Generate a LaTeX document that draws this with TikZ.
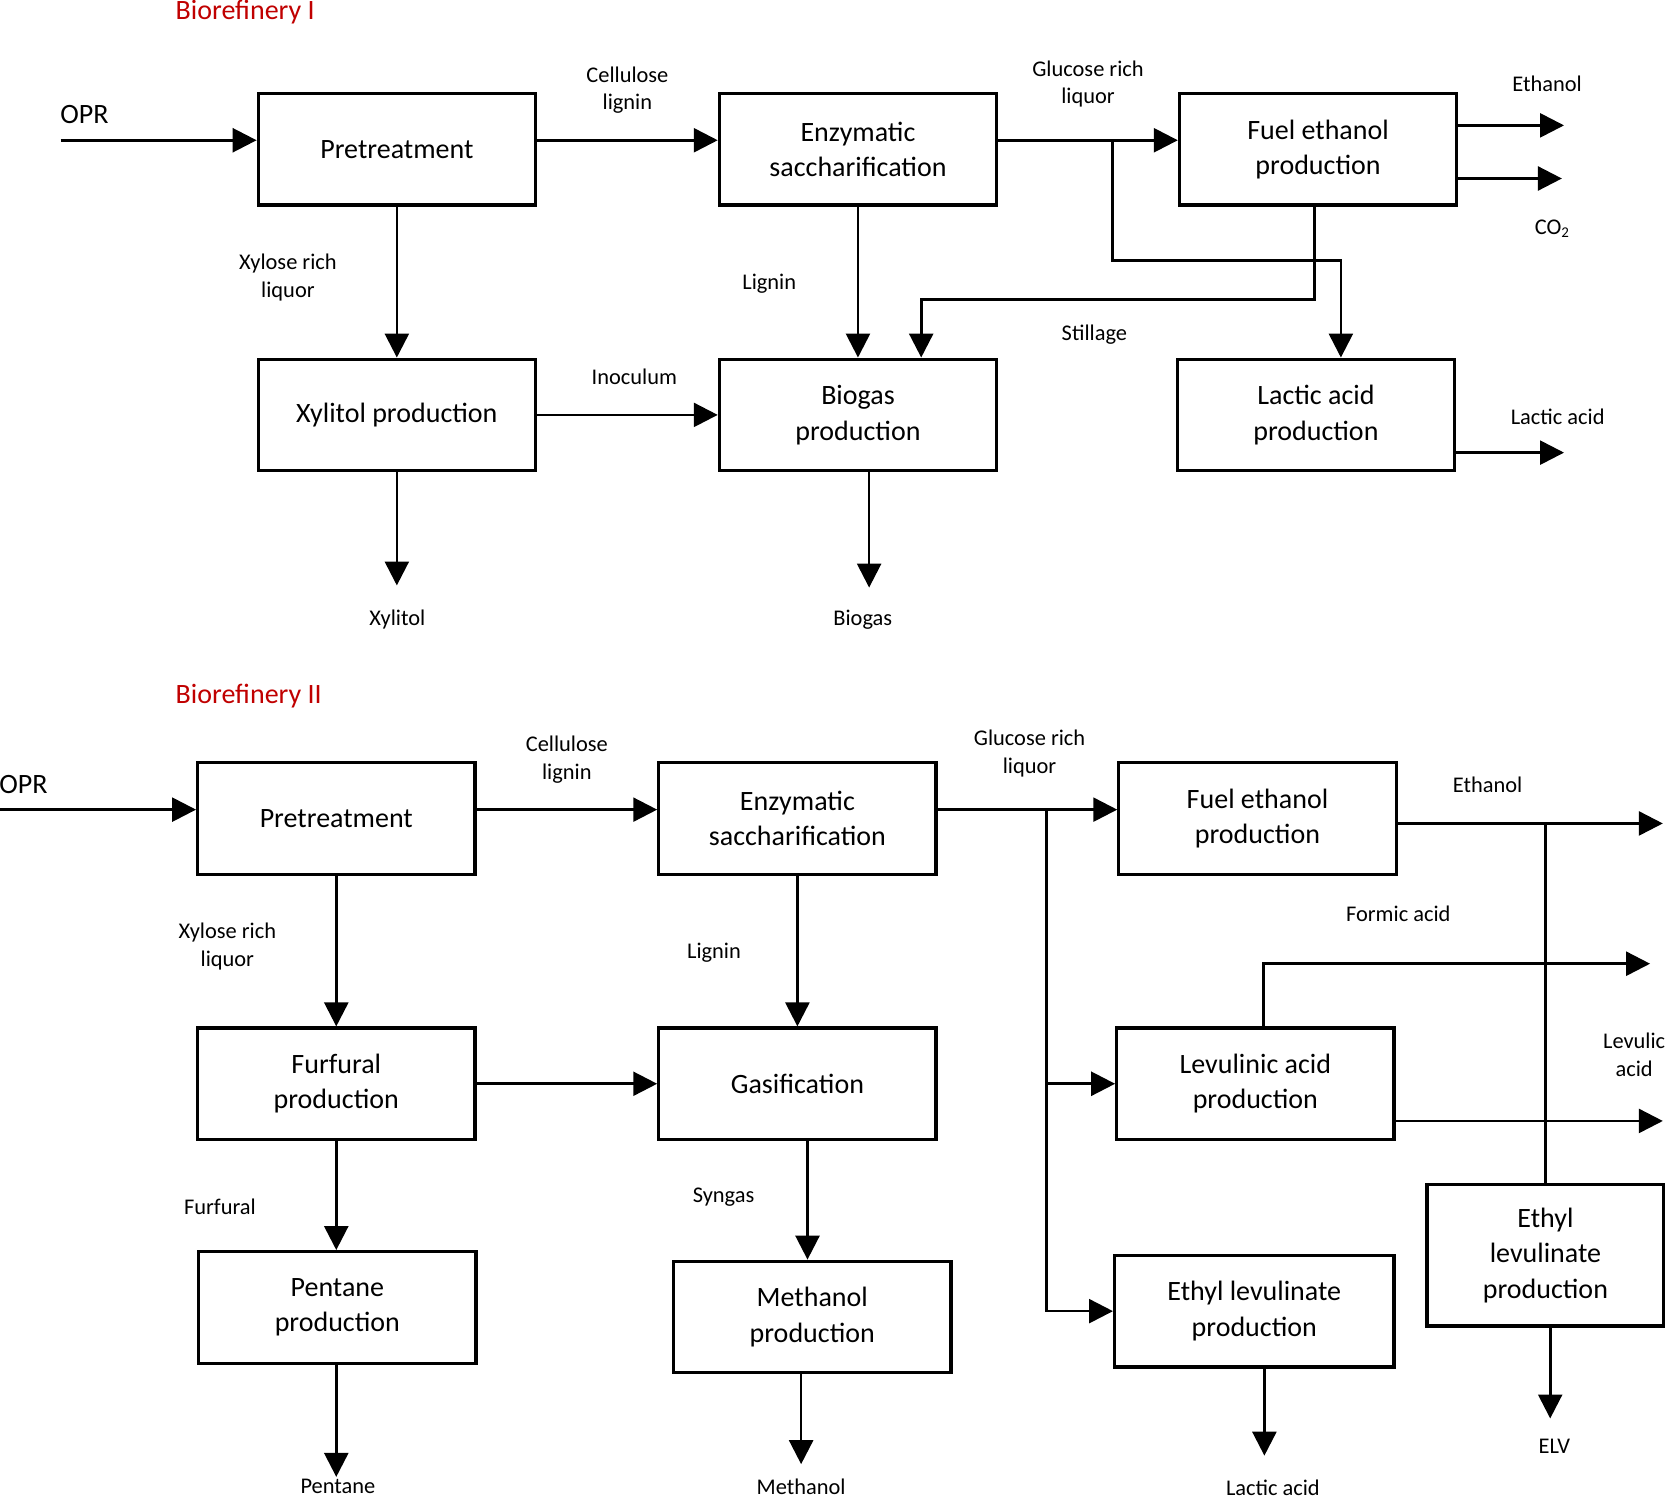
\documentclass[tikz,border=0pt]{standalone}
\usepackage{fontspec}
\setmainfont{Carlito}
\usepackage{tikz}
\usetikzlibrary{arrows.meta, positioning, calc}
\definecolor{titlered}{RGB}{192,0,0}

\begin{document}
\begin{tikzpicture}[
    unit/.style={
        draw, line width=1.7pt, fill=white,
        minimum width=5.22cm, minimum height=2.1cm,
        font=\fontsize{15}{19}\selectfont, align=center
    },
    arr/.style={-{Triangle[length=0.45cm, width=0.45cm]}, line width=1.4pt},
    flow/.style={line width=1.4pt},
    lbl/.style={font=\fontsize{12}{14.8}\selectfont, align=center},
    head/.style={font=\fontsize{15}{19}\selectfont, text=titlered, anchor=west, inner sep=0pt}
]
    \useasboundingbox (0,0) rectangle (31.36,-28.26);

    % Biorefinery I
    \node[head] (t1) at (3.3,-0.22) {Biorefinery I};

    \node[unit] (pre) at (7.47,-2.81) {Pretreatment};
    \node[unit] (enz) at (16.15,-2.81) {Enzymatic\\saccharification};
    \node[unit] (fe)  at (24.81,-2.81) {Fuel ethanol\\production};
    \node[unit] (xyl) at (7.47,-7.81) {Xylitol production};
    \node[unit] (bio) at (16.15,-7.81) {Biogas\\production};
    \node[unit] (lac) at (24.77,-7.81) {Lactic acid\\production};

    % Feed and main line
    \coordinate (opr) at (1.14,-2.64);
    \node[font=\fontsize{15}{19}\selectfont] (oprl) at (1.59,-2.16) {OPR};
    \draw[arr] (opr) -- (opr -| pre.west);
    \draw[arr] ([yshift=1.7mm]pre.east) -- ([yshift=1.7mm]enz.west)
        node[midway, lbl, yshift=0.94cm] {Cellulose\\lignin};
    \draw[arr] ([yshift=1.7mm]enz.east) -- ([yshift=1.7mm]fe.west);
    \node[lbl] at (20.48,-1.58) {Glucose rich\\liquor};

    % Branches
    \coordinate (gl1) at (20.94,-2.64);
    \coordinate (gl2) at (25.24,-4.9);
    \draw[arr] (gl1) |- (gl2) -- (gl2 |- lac.north);
    \coordinate (st) at (17.34,-5.64);
    \draw[arr] ([xshift=-0.7mm]fe.south) |- (st) -- (st |- bio.north);
    \node[lbl] at (20.6,-6.3) {Stillage};

    \draw[arr] (pre.south) -- (xyl.north);
    \node[lbl] at (5.42,-5.22) {Xylose rich\\liquor};
    \draw[arr] (enz.south) -- (bio.north);
    \node[lbl] at (14.48,-5.34) {Lignin};
    \draw[arr] (xyl.east) -- (bio.west);
    \node[lbl] at (11.94,-7.1) {Inoculum};

    % Products
    \coordinate (etho) at (29.44,-2.36);
    \draw[arr] (fe.east |- etho) -- (etho);
    \node[lbl] at (29.12,-1.58) {Ethanol};
    \coordinate (co2o) at (29.4,-3.36);
    \draw[arr] ([xshift=-0.6mm]fe.east |- co2o) -- (co2o);
    \node[lbl] at (29.22,-4.3) {CO\textsubscript{2}};
    \coordinate (lao) at (29.44,-8.52);
    \draw[arr] (lac.east |- lao) -- (lao);
    \node[lbl] at (29.32,-7.84) {Lactic acid};
    \coordinate (xo) at (7.47,-11.02);
    \draw[arr] (xyl.south) -- (xo);
    \node[lbl] at (7.48,-11.66) {Xylitol};
    \coordinate (bo) at (16.36,-11.06);
    \draw[arr] (bo |- bio.south) -- (bo);
    \node[lbl] at (16.24,-11.66) {Biogas};

    % Biorefinery II
    \node[head] (t2) at (3.3,-13.1) {Biorefinery II};

    \node[unit] (pre2) at (6.33,-15.41) {Pretreatment};
    \node[unit] (enz2) at (15.01,-15.41) {Enzymatic\\saccharification};
    \node[unit] (fe2)  at (23.67,-15.41) {Fuel ethanol\\production};
    \node[unit] (fur)  at (6.33,-20.4) {Furfural\\production};
    \node[unit] (gas)  at (15.01,-20.4) {Gasification};
    \node[unit] (lev)  at (23.63,-20.4) {Levulinic acid\\production};
    \node[unit] (pen)  at (6.35,-24.61) {Pentane\\production};
    \node[unit] (met)  at (15.29,-24.79) {Methanol\\production};
    \node[unit, minimum width=5.26cm] (elp) at (23.61,-24.68) {Ethyl levulinate\\production};
    \node[unit, minimum width=4.46cm, minimum height=2.66cm] (elv) at (29.09,-23.63) {Ethyl\\levulinate\\production};

    \coordinate (opr2) at (0,-15.24);
    \node[font=\fontsize{15}{19}\selectfont] (oprl2) at (0.44,-14.76) {OPR};
    \draw[arr] (opr2) -- (opr2 -| pre2.west);
    \draw[arr] ([yshift=1.7mm]pre2.east) -- ([yshift=1.7mm]enz2.west)
        node[midway, lbl, yshift=0.94cm] {Cellulose\\lignin};
    \draw[arr] ([yshift=1.7mm]enz2.east) -- ([yshift=1.7mm]fe2.west);
    \node[lbl] at (19.38,-14.18) {Glucose rich\\liquor};

    % Glucose split
    \coordinate (gb) at (19.7,-15.24);
    \draw[arr] (gb) |- (elp.west);
    \draw[arr] (gb |- lev.west) -- (lev.west);

    % Ethanol and acids
    \coordinate (eo2) at (31.3,-15.5);
    \draw[arr] (fe2.east |- eo2) -- (eo2);
    \node[lbl] at (28.0,-14.78) {Ethanol};
    \draw[flow] (elv.north) -- (elv.north |- eo2);
    \coordinate (fa) at (31.06,-18.14);
    \draw[arr] ([xshift=1.5mm]lev.north) |- (fa);
    \node[lbl] at (26.32,-17.2) {Formic acid};
    \coordinate (lo) at (31.3,-21.1);
    \draw[arr] (lev.east |- lo) -- (lo);
    \node[lbl] at (30.76,-19.86) {Levulic\\acid};
    \coordinate (elvo) at (29.18,-26.7);
    \draw[arr] (elvo |- elv.south) -- (elvo);
    \node[lbl] at (29.26,-27.22) {ELV};
    \coordinate (lao2) at (23.8,-27.4);
    \draw[arr] (lao2 |- elp.south) -- (lao2);
    \node[lbl] at (23.96,-28.0) {Lactic acid};

    % Xylose and lignin routes
    \draw[arr] (pre2.south) -- (fur.north);
    \node[lbl] at (4.28,-17.82) {Xylose rich\\liquor};
    \draw[arr] (enz2.south) -- (gas.north);
    \node[lbl] at (13.44,-17.94) {Lignin};
    \draw[arr] (fur.east) -- (gas.west);
    \draw[arr] (fur.south) -- (fur.south |- pen.north);
    \node[lbl] at (4.14,-22.72) {Furfural};
    \coordinate (po) at (6.33,-27.8);
    \draw[arr] (po |- pen.south) -- (po);
    \node[lbl] at (6.36,-27.98) {Pentane};
    \draw[arr] ([xshift=1.9mm]gas.south) -- ([xshift=1.9mm]gas.south |- met.north);
    \node[lbl] at (13.62,-22.54) {Syngas};
    \coordinate (mo) at (15.08,-27.56);
    \draw[arr] (mo |- met.south) -- (mo);
    \node[lbl] at (15.08,-27.98) {Methanol};
\end{tikzpicture}
\end{document}
